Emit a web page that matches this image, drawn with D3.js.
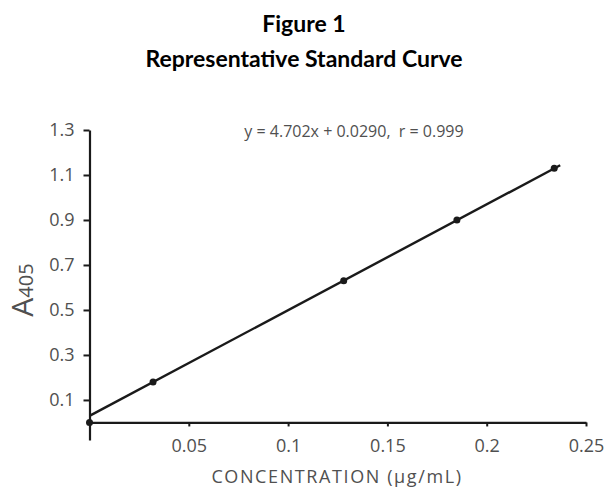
<!DOCTYPE html>
<html>
<head>
<meta charset="utf-8">
<script src="https://cdn.jsdelivr.net/npm/d3@7"></script>
<style>
  body { margin: 0; background: #fff; }
  svg { display: block; }
</style>
</head>
<body>
<div id="chart"></div>
<script>
// standard curve readings
const concentrations = [0, 0.032, 0.128, 0.185, 0.234];
const absorbances = [0.0, 0.18, 0.63, 0.90, 1.13];
const fitSlope = 4.702;
const fitIntercept = 0.0290;
const fitRange = [0, 0.237];
const xTicks = [0.05, 0.1, 0.15, 0.2, 0.25];
const yTicks = [0.1, 0.3, 0.5, 0.7, 0.9, 1.1, 1.3];

const width = 608, height = 491;
const ink = '#1a1a1a';
const grey = '#505050';
const labelFont = '"Open Sans"';

const svg = d3.select('#chart').append('svg')
    .attr('width', width)
    .attr('height', height);

// Title
svg.append('text')
    .attr('x', 304).attr('y', 32)
    .attr('text-anchor', 'middle')
    .style('font', 'bold 23px Lato')
    .text('Figure 1');
svg.append('text')
    .attr('x', 304).attr('y', 67)
    .attr('text-anchor', 'middle')
    .style('font', 'bold 23px Lato')
    .text('Representative Standard Curve');

// Scales
const x = d3.scaleLinear().domain([0, 0.25]).range([89.5, 586]);
const y = d3.scaleLinear().domain([-0.078, 1.3]).range([440, 130]);

// Y axis
const yAxis = svg.append('g')
    .attr('transform', `translate(${x(0)},0)`)
    .call(d3.axisLeft(y).tickValues(yTicks).tickSize(6).tickSizeOuter(0).tickPadding(9)
        .tickFormat(d3.format('.1f')));

// X axis (sits at y = 0)
const xAxis = svg.append('g')
    .attr('transform', `translate(0,${y(0)})`)
    .call(d3.axisBottom(x).tickValues(xTicks).tickSize(4).tickSizeOuter(0).tickPadding(13)
        .tickFormat(d => String(+d.toFixed(2))));

[xAxis, yAxis].forEach(g => {
    g.select('.domain').attr('stroke', ink).attr('stroke-width', 2.2);
    g.selectAll('.tick line').attr('stroke', ink).attr('stroke-width', 2);
    g.selectAll('.tick text')
        .attr('fill', grey)
        .style('font-family', labelFont)
        .style('font-size', '18px');
});

// Fitted line
const fit = fitRange.map(c => [c, fitSlope * c + fitIntercept]);
svg.append('path')
    .datum(fit)
    .attr('fill', 'none')
    .attr('stroke', ink)
    .attr('stroke-width', 2.4)
    .attr('d', d3.line().x(d => x(d[0])).y(d => y(d[1])));

// Points
svg.selectAll('.pt')
    .data(concentrations.map((c, i) => ({ c, a: absorbances[i] })))
    .enter().append('circle')
    .attr('class', 'pt')
    .attr('cx', d => x(d.c))
    .attr('cy', d => y(d.a))
    .attr('r', 3.5)
    .attr('fill', ink);

// Equation
svg.append('text')
    .attr('x', 354).attr('y', 137)
    .attr('text-anchor', 'middle')
    .attr('fill', grey)
    .style('font', `16px ${labelFont}`)
    .style('white-space', 'pre')
    .text('y = 4.702x + 0.0290,  r = 0.999');

// Axis labels
svg.append('text')
    .attr('x', 337).attr('y', 483)
    .attr('text-anchor', 'middle')
    .attr('fill', grey)
    .style('font', `18px ${labelFont}`)
    .style('letter-spacing', '1.6px')
    .text('CONCENTRATION (µg/mL)');

const yLab = svg.append('text')
    .attr('transform', 'translate(33,290) rotate(-90)')
    .attr('text-anchor', 'middle')
    .attr('fill', grey)
    .style('font-family', labelFont);
yLab.append('tspan').style('font-size', '30px').text('A');
yLab.append('tspan').style('font-size', '20px').text('405');
</script>
</body>
</html>
